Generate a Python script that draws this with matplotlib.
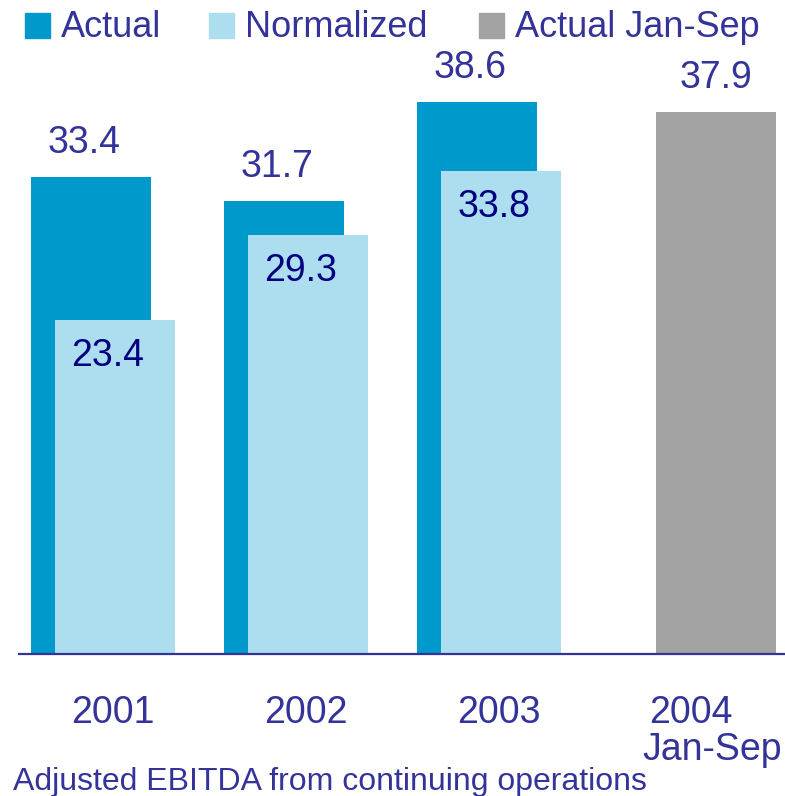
import matplotlib
matplotlib.use("Agg")
import matplotlib.pyplot as plt
import matplotlib.transforms as mtransforms
from matplotlib.patches import Rectangle

plt.rcParams['font.family'] = ['Liberation Sans', 'DejaVu Sans']

years = ["2001", "2002", "2003"]
actual = [33.4, 31.7, 38.6]
normalized = [23.4, 29.3, 33.8]
partial_label = ["2004", "Jan-Sep"]
partial_value = 37.9
legend_labels = ["Actual", "Normalized", "Actual Jan-Sep"]
footnote = "Adjusted EBITDA from continuing operations"

C_ACT = "#0099CC"
C_NORM = "#ADDEEF"
C_GRAY = "#A3A3A3"
C_TEXT = "#333399"
C_INNER = "#000080"

W, H = 785, 796
fig = plt.figure(figsize=(W / 100, H / 100), dpi=100)
base_px = 654
ax = fig.add_axes([18 / W, (H - base_px) / H, (W - 18) / W, base_px / H])
ax.set_xlim(-(91 - 18) / 193, (785 - 91) / 193)
ax.set_ylim(0, base_px / 14.29)
ax.axis('off')

bw = 120 / 193
noff = 24 / 193
px = 1 / 193
py = 1 / 14.29

for i, (a, n) in enumerate(zip(actual, normalized)):
    ax.bar(i, a, width=bw, color=C_ACT, zorder=2)
    ax.bar(i + noff, n, width=bw, color=C_NORM, zorder=3)
    ax.text(i - 7 * px, a + 24 * py, f"{a:.1f}", ha='center', va='baseline',
            fontsize=27, color=C_TEXT)
    ax.text(i + noff - 7 * px, n - 46 * py, f"{n:.1f}", ha='center', va='baseline',
            fontsize=27, color=C_INNER, zorder=4)

gx = len(actual) + 46 / 193
ax.bar(gx, partial_value, width=bw, color=C_GRAY, zorder=2)
ax.text(gx, partial_value + 24 * py, f"{partial_value:.1f}", ha='center',
        va='baseline', fontsize=27, color=C_TEXT)

# baseline axis line
ax.plot([ax.get_xlim()[0], ax.get_xlim()[1]], [0, 0], color=C_TEXT, lw=1.6,
        zorder=5, clip_on=False, solid_capstyle='butt')

# category labels
trans = mtransforms.blended_transform_factory(ax.transData, fig.transFigure)
for i, y in enumerate(years):
    ax.text(i + noff - 2 * px, (H - 723) / H, y, transform=trans, ha='center',
            va='baseline', fontsize=27, color=C_TEXT)
ax.text(gx - 25 * px, (H - 723) / H, partial_label[0], transform=trans,
        ha='center', va='baseline', fontsize=27, color=C_TEXT)
ax.text(gx - 4 * px, (H - 760) / H, partial_label[1], transform=trans,
        ha='center', va='baseline', fontsize=27, color=C_TEXT)

# legend
leg_sq = [(25, C_ACT), (209, C_NORM), (479, C_GRAY)]
leg_tx = [61, 245, 515]
for (sx, c), tx, lab in zip(leg_sq, leg_tx, legend_labels):
    fig.patches.append(Rectangle((sx / W, (H - 38) / H), 25 / W, 25 / H,
                                 transform=fig.transFigure, color=c))
    fig.text(tx / W, (H - 37) / H, lab, ha='left', va='baseline',
             fontsize=26, color=C_TEXT)

fig.text(13 / W, (H - 790) / H, footnote, ha='left', va='baseline',
         fontsize=23, color=C_TEXT)

fig.savefig("out.png", dpi=100)
